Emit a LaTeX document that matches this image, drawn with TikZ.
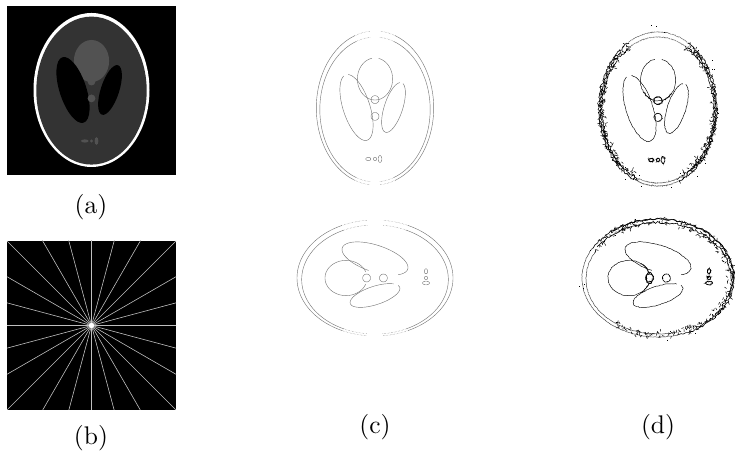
\documentclass[tikz,border=0pt]{standalone}
\newcommand\jit{0}
\newcommand\smp{90}
\newcommand\earc[7]{\draw[shift={(#1,#2)},rotate=#5] plot[smooth,tension=.3,domain=#6:#7,samples=\smp,variable=\th] ({(#3)*cos(\th)+\jit*(rnd-.5)},{(#4)*sin(\th)+\jit*(rnd-.5)});}
\newcommand\lobesportrait{%
  \earc{0}{29}{17.6}{21}{0}{-260}{78}
  \earc{-18.5}{0.5}{13.4}{34.4}{18}{-260}{80}
  \earc{18.5}{0.5}{9.2}{26}{-18}{-260}{80}
  \earc{0}{8.4}{3.9}{3.9}{0}{0}{360}
  \earc{0}{-8.4}{3.9}{3.9}{0}{0}{360}
  \earc{-6.7}{-51}{2.5}{1.6}{0}{0}{360}
  \earc{0}{-51}{1.6}{1.6}{0}{0}{360}
  \earc{5}{-51}{1.8}{3.4}{0}{0}{360}
}
\newcommand\lobeslandscape{%
  \earc{-29}{0}{17.6}{21}{90}{-70}{250}
  \earc{0}{19.5}{13.4}{34.4}{-108}{52}{356}
  \earc{0}{-17.5}{9.2}{26}{-72}{125}{465}
  \earc{-8.4}{0}{3.9}{3.9}{0}{0}{360}
  \earc{8.4}{0}{3.9}{3.9}{0}{0}{360}
  \earc{51}{6.7}{1.6}{2.5}{0}{0}{360}
  \earc{51}{0}{1.6}{1.6}{0}{0}{360}
  \earc{51}{-5}{3.4}{1.8}{0}{0}{360}
}
% c-panel ring: solid sides, faint dotted runs next to the top and bottom gaps
\newcommand\ringfaint[4]{%
  \foreach \rr/\ofs in {1/0,.94/-1.5}{%
    \begin{scope}[yshift=\ofs pt]
    \earc{0}{0}{\rr*#1}{\rr*#2}{0}{90+#4}{270-#4}
    \earc{0}{0}{\rr*#1}{\rr*#2}{0}{-90+#4}{90-#4}
    \begin{scope}[draw=black!50,densely dotted]
    \earc{0}{0}{\rr*#1}{\rr*#2}{0}{90+#3}{90+#4}
    \earc{0}{0}{\rr*#1}{\rr*#2}{0}{90-#4}{90-#3}
    \earc{0}{0}{\rr*#1}{\rr*#2}{0}{270-#4}{270-#3}
    \earc{0}{0}{\rr*#1}{\rr*#2}{0}{270+#3}{270+#4}
    \end{scope}
    \end{scope}}%
}
% random fine marks along a stretch of the ring: rx, ry, count, from, to, length
\newcommand\hairs[6]{%
  \foreach \i in {1,...,#3}{%
    \pgfmathsetmacro\angv{#4+rnd*(#5-#4)}\pgfmathsetmacro\radv{0.92+rnd*0.11}\pgfmathsetmacro\dirv{rnd*360}%
    \draw[line width=.5pt] ({\radv*#1*cos(\angv)},{\radv*#2*sin(\angv)}) -- ++(\dirv:#6);}%
}
\newcommand\specks[3]{%
  \foreach \i in {1,...,#3}{%
    \pgfmathsetmacro\angv{rnd*360}\pgfmathsetmacro\radv{0.9+rnd*0.2}%
    \fill ({\radv*#1*cos(\angv)},{\radv*#2*sin(\angv)}) rectangle ++(.9,.9);}%
}
\tikzset{
  thinedge/.style={draw=black!55,line width=.42pt},
  noisy/.style={draw=black,line width=.45pt},
  noisier/.style={draw=black,line width=.6pt},
  caption/.style={scale=2.55,inner sep=0pt}
}
\begin{document}
\begin{tikzpicture}[x=1pt,y=1pt]
\useasboundingbox (0,0) rectangle (735,454);
\pgfmathsetseed{7}
% panel (a)
\fill[black] (7,279) rectangle (176,448);
\begin{scope}[shift={(91.5,364)}]
\fill[white] (0,0) ellipse (58 and 77);
\fill[black!80] (0,-0.6) ellipse (55.2 and 74);
\fill[black!68] (0,29) ellipse (17.6 and 21);
\fill[black,rotate around={18:(-18.5,0)}] (-18.5,0) ellipse (13.4 and 34.4);
\fill[black,rotate around={-18:(18.5,0)}] (18.5,0) ellipse (9.2 and 26);
\fill[black!68] (0,8.4) circle (3.9);
\fill[black!68] (0,-8.4) circle (3.9);
\fill[black!68] (-6.7,-51) ellipse (3.8 and 1.6);
\fill[black!68] (0,-51) circle (1.7);
\fill[black!68] (5,-51) ellipse (1.9 and 3.8);
\end{scope}
% panel (b)
\fill[black] (7,44) rectangle (176,213);
\begin{scope}
\clip (7,44) rectangle (176,213);
\foreach \a in {0,15,...,345}{\draw[black!25,line width=.6pt] (91.5,128.5) -- ++(\a:125);}
\end{scope}
\fill[white] (91.5,128.5) circle (2.6);
% panel (c)
\begin{scope}[shift={(375,346)}]
\begin{scope}[thinedge]\ringfaint{58.7}{77}{5}{20}\lobesportrait\end{scope}
\end{scope}
\begin{scope}[shift={(375,176)}]
\begin{scope}[thinedge]\ringfaint{78}{58}{6}{25}\lobeslandscape\end{scope}
\end{scope}
% panel (d), portrait
\begin{scope}[shift={(658,345)}]
\renewcommand\jit{.6}
\begin{scope}[noisy]\lobesportrait
\renewcommand\jit{1.3}\renewcommand\smp{18}
\earc{0}{29}{17.6}{21}{0}{215}{250}
\earc{0}{29}{17.6}{21}{0}{-70}{-40}
\earc{0}{8.4}{5}{3.4}{0}{0}{360}
\end{scope}
\renewcommand\jit{.8}\renewcommand\smp{120}
\begin{scope}[draw=black!60,line width=.4pt]
\earc{0}{0}{59}{77}{0}{60}{120}
\earc{0}{-1}{56}{73}{0}{60}{120}
\earc{0}{0}{59}{77}{0}{250}{290}
\earc{0}{-1}{56}{73}{0}{250}{290}
\end{scope}
\renewcommand\jit{2.2}
\begin{scope}[noisier]
\earc{0}{0}{59}{77}{0}{-70}{60}
\earc{0}{0}{59}{77}{0}{120}{250}
\earc{0}{-1}{56}{73}{0}{-70}{60}
\earc{0}{-1}{56}{73}{0}{120}{250}
\earc{0}{0}{57.5}{75}{0}{-55}{50}
\earc{0}{0}{57.5}{75}{0}{130}{235}
\hairs{58}{75}{130}{-65}{60}{2.5}
\hairs{58}{75}{130}{120}{245}{2.5}
\end{scope}
\specks{60}{77}{28}
\end{scope}
% panel (d), landscape
\begin{scope}[shift={(658,176)}]
\renewcommand\jit{.6}\renewcommand\smp{90}
\begin{scope}[noisy]\lobeslandscape
\renewcommand\jit{1.3}\renewcommand\smp{20}
\begin{scope}[line width=.8pt]\earc{-8.4}{0}{3.2}{5.5}{0}{0}{360}\end{scope}
\earc{-29}{0}{17.6}{21}{90}{-75}{-35}
\earc{-29}{0}{17.6}{21}{90}{215}{255}
\end{scope}
\renewcommand\jit{.5}\renewcommand\smp{110}
\begin{scope}[draw=black!75,line width=.45pt]
\earc{0}{0}{76}{59}{0}{150}{285}
\earc{0}{-1}{72}{55}{0}{150}{285}
\end{scope}
\renewcommand\jit{2.2}
\begin{scope}[noisier]
\earc{0}{0}{76}{59}{0}{-75}{150}
\earc{0}{-1}{73.5}{56.5}{0}{-60}{145}
\earc{0}{1}{75}{58}{0}{-20}{130}
\hairs{75}{58}{230}{-75}{150}{2.5}
\hairs{75}{58}{45}{235}{285}{2.5}
\end{scope}
\specks{76}{59}{15}
\end{scope}
% captions
\node[caption] (capa) at (91,247) {(a)};
\node[caption] (capb) at (91,16) {(b)};
\node[caption] (capc) at (375,27) {(c)};
\node[caption] (capd) at (658,27) {(d)};
\end{tikzpicture}
\end{document}
